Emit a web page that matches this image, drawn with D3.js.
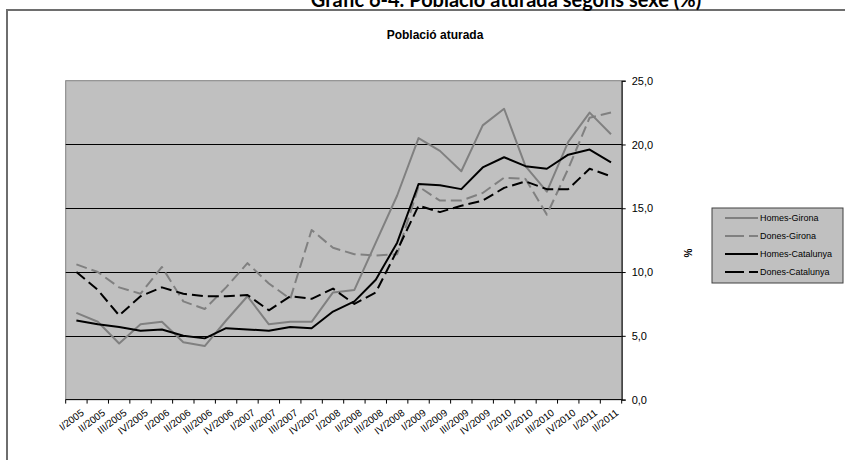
<!DOCTYPE html>
<html>
<head>
<meta charset="utf-8">
<script src="https://cdn.jsdelivr.net/npm/d3@7"></script>
<style>
  html, body { margin: 0; padding: 0; background: #fff; }
  svg { display: block; }
  text { font-family: Arial, "Liberation Sans", sans-serif; }
</style>
</head>
<body>
<svg id="chart" width="845" height="460"></svg>
<script>
// Quarterly unemployment rate (%) by sex, Girona vs Catalunya
const quarters = [
  "I/2005","II/2005","III/2005","IV/2005",
  "I/2006","II/2006","III/2006","IV/2006",
  "I/2007","II/2007","III/2007","IV/2007",
  "I/2008","II/2008","III/2008","IV/2008",
  "I/2009","II/2009","III/2009","IV/2009",
  "I/2010","II/2010","III/2010","IV/2010",
  "I/2011","II/2011"
];
const homesGirona = [6.8, 6.1, 4.4, 5.9, 6.1, 4.5, 4.2, 6.2, 8.1, 5.9, 6.1, 6.1, 8.4, 8.6, 12.3, 16.0, 20.5, 19.5, 17.9, 21.5, 22.8, 18.3, 16.3, 20.2, 22.5, 20.8];
const donesGirona = [10.6, 10.0, 8.8, 8.3, 10.4, 7.7, 7.1, 8.8, 10.7, 9.1, 7.9, 13.3, 11.9, 11.4, 11.3, 11.4, 16.7, 15.6, 15.6, 16.2, 17.4, 17.3, 14.5, 18.1, 22.1, 22.5];
const homesCatalunya = [6.2, 5.9, 5.7, 5.4, 5.5, 5.0, 4.8, 5.6, 5.5, 5.4, 5.7, 5.6, 6.9, 7.7, 9.4, 12.3, 16.9, 16.8, 16.5, 18.2, 19.0, 18.3, 18.1, 19.2, 19.6, 18.6];
const donesCatalunya = [10.0, 8.6, 6.6, 8.1, 8.8, 8.3, 8.1, 8.1, 8.2, 7.0, 8.1, 7.9, 8.7, 7.5, 8.4, 11.7, 15.2, 14.7, 15.2, 15.6, 16.6, 17.1, 16.5, 16.5, 18.1, 17.5];
const yTicks = [0, 5, 10, 15, 20, 25];

const series = [
  { name: "Homes-Girona", values: homesGirona, color: "#808080", dash: null },
  { name: "Dones-Girona", values: donesGirona, color: "#808080", dash: "11,5" },
  { name: "Homes-Catalunya", values: homesCatalunya, color: "#000000", dash: null },
  { name: "Dones-Catalunya", values: donesCatalunya, color: "#000000", dash: "11,5" }
];

const svg = d3.select("#chart");
const plot = { left: 65.7, right: 621.7, top: 80.7, bottom: 399.6 };

// Outer frame (runs off the right and bottom edges)
svg.append("rect")
  .attr("x", 7).attr("y", 10)
  .attr("width", 900).attr("height", 500)
  .attr("fill", "#fff")
  .attr("stroke", "#6e6e6e")
  .attr("stroke-width", 2);

// Main heading, sitting at the very top edge of the page
svg.append("text")
  .attr("x", 506).attr("y", 7)
  .attr("text-anchor", "middle")
  .style("font-family", "Lato, 'Open Sans', sans-serif")
  .style("font-weight", "bold")
  .style("font-size", "20px")
  .text("Gràfic 6-4. Població aturada segons sexe (%)");

// Chart title
svg.append("text")
  .attr("x", 435).attr("y", 39)
  .attr("text-anchor", "middle")
  .style("font-weight", "bold")
  .style("font-size", "12px")
  .text("Població aturada");

const x = d3.scaleBand()
  .domain(quarters)
  .range([plot.left, plot.right]);

const y = d3.scaleLinear()
  .domain([0, 25])
  .range([plot.bottom, plot.top]);

// Plot area background
svg.append("rect")
  .attr("x", plot.left).attr("y", plot.top)
  .attr("width", plot.right - plot.left)
  .attr("height", plot.bottom - plot.top)
  .attr("fill", "#c0c0c0")
  .attr("stroke", "#808080")
  .attr("stroke-width", 1);

// Horizontal gridlines
svg.append("g")
  .selectAll("line")
  .data(yTicks.filter(d => d > 0 && d < 25))
  .join("line")
  .attr("x1", plot.left).attr("x2", plot.right)
  .attr("y1", d => Math.round(y(d)) + 0.5)
  .attr("y2", d => Math.round(y(d)) + 0.5)
  .attr("stroke", "#000")
  .attr("stroke-width", 1);

// Right-hand value axis
const yAxis = d3.axisRight(y)
  .tickValues(yTicks)
  .tickSize(4)
  .tickPadding(6)
  .tickFormat(d => d3.format(".1f")(d).replace(".", ","));

const gy = svg.append("g")
  .attr("transform", `translate(${plot.right},0)`)
  .call(yAxis);
gy.attr("font-family", null);
gy.select(".domain").attr("stroke", "#000");
gy.selectAll(".tick line").attr("stroke", "#000");
gy.selectAll(".tick text")
  .attr("fill", "#000")
  .style("font-size", "11px");

// Category axis: ticks between quarters
const gx = svg.append("g")
  .attr("transform", `translate(0,${plot.bottom})`);
gx.append("line")
  .attr("x1", plot.left).attr("x2", plot.right)
  .attr("y1", 0).attr("y2", 0)
  .attr("stroke", "#000");
const boundaries = quarters.map(q => x(q)).concat([plot.right]);
gx.selectAll("line.tick")
  .data(boundaries)
  .join("line")
  .attr("class", "tick")
  .attr("x1", d => d).attr("x2", d => d)
  .attr("y1", 0).attr("y2", 4)
  .attr("stroke", "#000");
gx.selectAll("text")
  .data(quarters)
  .join("text")
  .attr("transform", d => `translate(${x(d) + x.bandwidth() / 2 + 4},${9}) rotate(-37)`)
  .attr("text-anchor", "end")
  .attr("dy", "0.7em")
  .style("font-size", "10px")
  .text(d => d);

// Series lines
const line = d3.line()
  .x((d, i) => x(quarters[i]) + x.bandwidth() / 2)
  .y(d => y(d));

svg.append("g")
  .selectAll("path")
  .data(series)
  .join("path")
  .attr("d", s => line(s.values))
  .attr("fill", "none")
  .attr("stroke", s => s.color)
  .attr("stroke-width", 2)
  .attr("stroke-dasharray", s => s.dash)
  .attr("stroke-linejoin", "round");

// Axis unit label
svg.append("text")
  .attr("transform", "translate(692,253) rotate(-90)")
  .attr("text-anchor", "middle")
  .style("font-weight", "bold")
  .style("font-size", "10px")
  .text("%");

// Legend
const legend = svg.append("g").attr("transform", "translate(712,208)");
legend.append("rect")
  .attr("width", 131).attr("height", 75)
  .attr("fill", "#c0c0c0")
  .attr("stroke", "#404040")
  .attr("stroke-width", 1);
const rows = legend.selectAll("g.row")
  .data(series)
  .join("g")
  .attr("class", "row")
  .attr("transform", (d, i) => `translate(0,${10 + i * 18})`);
rows.append("line")
  .attr("x1", 13).attr("x2", 46)
  .attr("y1", 0).attr("y2", 0)
  .attr("stroke", d => d.color)
  .attr("stroke-width", 2)
  .attr("stroke-dasharray", d => d.dash ? "19,5" : null);
rows.append("text")
  .attr("x", 48).attr("y", 0)
  .attr("dy", "0.35em")
  .style("font-size", "9px")
  .text(d => d.name);
</script>
</body>
</html>
